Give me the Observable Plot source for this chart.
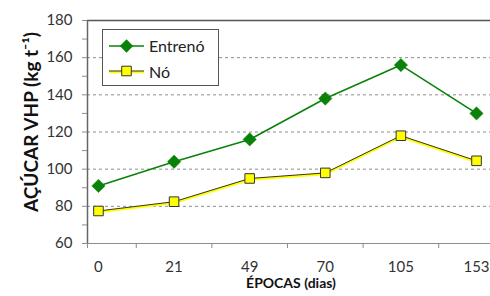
<!DOCTYPE html>
<html>
<head>
<meta charset="utf-8">
<script src="https://cdn.jsdelivr.net/npm/d3@7"></script>
<script src="https://cdn.jsdelivr.net/npm/@observablehq/plot@0.6"></script>
<style>
  html, body { margin: 0; padding: 0; background: #fff; }
  svg { display: block; }
</style>
</head>
<body>
<div id="chart"></div>
<script>
const categories = ["0", "21", "49", "70", "105", "153"];
const entreno = [91, 104, 116, 138, 156, 130];
const no = [77.5, 82.5, 95, 98, 118, 104.5];
const yLabelTicks = [60, 80, 100, 120, 140, 160, 180];
const yMinorTicks = [60, 70, 80, 90, 100, 110, 120, 130, 140, 150, 160, 170, 180];
const gridTicks = [80, 100, 120, 140, 160];
const seriesNames = ["Entrenó", "Nó"];
const yTitle = "AÇÚCAR VHP (kg t⁻¹)";
const xTitle = "ÉPOCAS (dias)";

const rows = categories.map((c, i) => ({ i, cat: c, entreno: entreno[i], no: no[i] }));
const xDomain = [-0.145, 5.185];
const boundaries = [xDomain[0], 0.5, 1.5, 2.5, 3.5, 4.5];

const green = "#0a820a";
const yellow = "#ffff00";
const dark = "#333333";

const chart = Plot.plot({
  width: 490,
  height: 296,
  marginLeft: 87,
  marginRight: 0,
  marginTop: 20,
  marginBottom: 53,
  style: { fontFamily: "Lato, 'Open Sans', sans-serif", fontSize: "15px", color: "#333", background: "#fff", overflow: "hidden" },
  x: { domain: xDomain, axis: null },
  y: { domain: [60, 180], axis: null },
  marks: [
    Plot.gridY(gridTicks, { stroke: "#8c8c8c", strokeOpacity: 1, strokeDasharray: "3,3" }),
    Plot.ruleY([180], { stroke: "#555", strokeWidth: 1.5 }),
    Plot.ruleY([60], { stroke: "#8c8c8c", strokeWidth: 1 }),
    Plot.ruleX([xDomain[0]], { stroke: "#666", strokeWidth: 1.5 }),
    Plot.axisY({ ticks: yMinorTicks, tickSize: 5, tickFormat: () => "", stroke: "#8c8c8c", label: null }),
    Plot.axisY({ ticks: yLabelTicks, tickSize: 0, tickPadding: 15, fontSize: 15, fill: "#333", label: null }),
    Plot.axisX({ ticks: boundaries, tickSize: 5, tickFormat: () => "", stroke: "#8c8c8c", label: null }),
    Plot.axisX({ ticks: rows.map(d => d.i), tickSize: 0, tickPadding: 18, fontSize: 15, fill: "#333", tickFormat: i => categories[i], label: null }),
    // Nó series
    Plot.line(rows, { x: "i", y: "no", stroke: yellow, strokeWidth: 2.5, dy: 1 }),
    Plot.line(rows, { x: "i", y: "no", stroke: dark, strokeWidth: 1 }),
    // Entrenó series
    Plot.line(rows, { x: "i", y: "entreno", stroke: green, strokeWidth: 1.6 }),
    Plot.dot(rows, { x: "i", y: "no", symbol: "square", r: 5.4, fill: yellow, stroke: dark, strokeWidth: 1 }),
    Plot.dot(rows, { x: "i", y: "entreno", symbol: "diamond2", r: 6, fill: green, stroke: green, strokeWidth: 0.5 }),
    // Titles
    Plot.text([yTitle], { frameAnchor: "left", textAnchor: "middle", dx: -56, dy: -10, rotate: -90, fontSize: 19, fontWeight: "bold", fill: "#111" }),
    Plot.text([xTitle], { frameAnchor: "bottom", textAnchor: "middle", dx: 2, dy: 44, fontSize: 14, fontWeight: "bold", fill: "#111" })
  ]
});

document.getElementById("chart").appendChild(chart);

// Legend inside the plot area
const svg = d3.select(chart);
const lg = svg.append("g").attr("font-family", "Lato, 'Open Sans', sans-serif").attr("text-anchor", "start");
lg.append("rect").attr("x", 102.5).attr("y", 29.5).attr("width", 116).attr("height", 56)
  .attr("fill", "#fff").attr("stroke", "#555").attr("stroke-width", 1);
// Entrenó entry
lg.append("line").attr("x1", 109).attr("x2", 144).attr("y1", 46).attr("y2", 46).attr("stroke", green).attr("stroke-width", 1.6);
lg.append("path").attr("d", d3.symbol(d3.symbolDiamond2, Math.PI * 36)()).attr("transform", "translate(126.5,46)").attr("fill", green);
lg.append("text").attr("x", 149).attr("y", 51.5).attr("font-size", 16).attr("fill", "#222").attr("text-anchor", "start").text(seriesNames[0]);
// Nó entry
lg.append("line").attr("x1", 109).attr("x2", 144).attr("y1", 72).attr("y2", 72).attr("stroke", yellow).attr("stroke-width", 2.5);
lg.append("line").attr("x1", 109).attr("x2", 144).attr("y1", 71).attr("y2", 71).attr("stroke", dark).attr("stroke-width", 1);
lg.append("path").attr("d", d3.symbol(d3.symbolSquare, Math.PI * 5.4 * 5.4)()).attr("transform", "translate(126.5,71)").attr("fill", yellow).attr("stroke", dark).attr("stroke-width", 1);
lg.append("text").attr("x", 149).attr("y", 77.5).attr("font-size", 16).attr("fill", "#222").attr("text-anchor", "start").text(seriesNames[1]);
</script>
</body>
</html>
